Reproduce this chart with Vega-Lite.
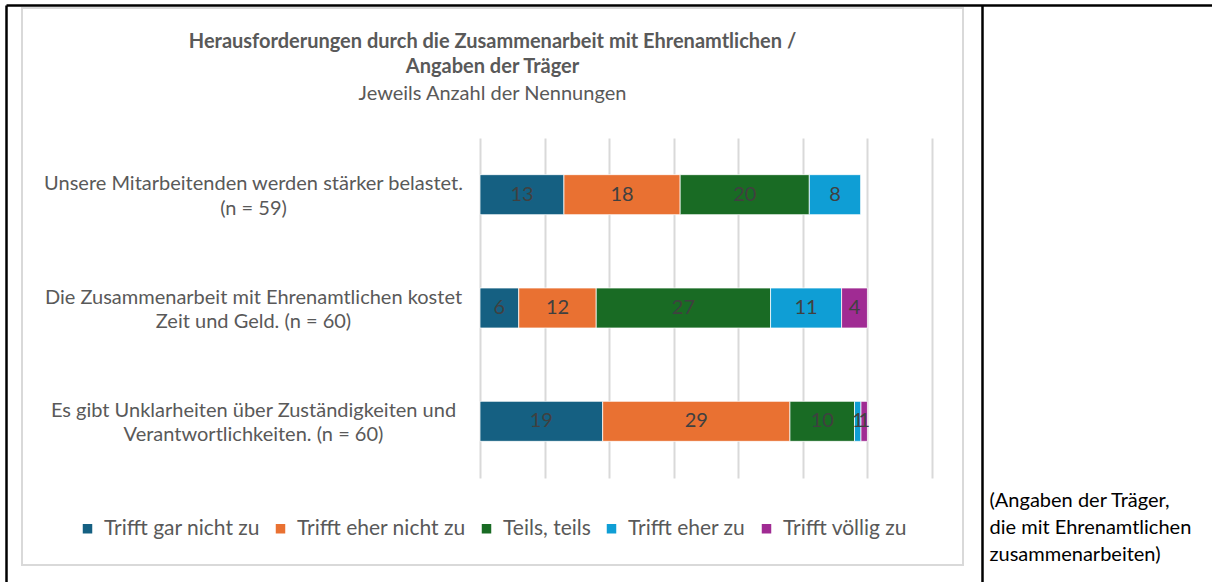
{
  "$schema": "https://vega.github.io/schema/vega-lite/v6.json",
  "width": 941,
  "height": 557,
  "autosize": {"type": "none"},
  "padding": {"left": 22, "top": 8, "right": 249, "bottom": 17},
  "background": "white",
  "config": {"view": {"stroke": "#d9d9d9", "strokeWidth": 2}, "font": "Lato"},
  "title": {
    "text": ["Herausforderungen durch die Zusammenarbeit mit Ehrenamtlichen /", "Angaben der Träger"],
    "subtitle": "Jeweils Anzahl der Nennungen",
    "anchor": "middle",
    "frame": "group",
    "offset": -99,
    "font": "Lato",
    "fontSize": 20,
    "fontWeight": "bold",
    "color": "#595959",
    "lineHeight": 25,
    "subtitleFont": "Lato",
    "subtitleFontSize": 20,
    "subtitleColor": "#595959",
    "subtitlePadding": 7
  },
  "datasets": {
    "answers": [
      {"item": "Unsere Mitarbeitenden werden stärker belastet.\n(n = 59)", "answer": "Trifft gar nicht zu", "value": 13, "order": 1},
      {"item": "Unsere Mitarbeitenden werden stärker belastet.\n(n = 59)", "answer": "Trifft eher nicht zu", "value": 18, "order": 2},
      {"item": "Unsere Mitarbeitenden werden stärker belastet.\n(n = 59)", "answer": "Teils, teils", "value": 20, "order": 3},
      {"item": "Unsere Mitarbeitenden werden stärker belastet.\n(n = 59)", "answer": "Trifft eher zu", "value": 8, "order": 4},
      {"item": "Unsere Mitarbeitenden werden stärker belastet.\n(n = 59)", "answer": "Trifft völlig zu", "value": 0, "order": 5},
      {"item": "Die Zusammenarbeit mit Ehrenamtlichen kostet\nZeit und Geld. (n = 60)", "answer": "Trifft gar nicht zu", "value": 6, "order": 1},
      {"item": "Die Zusammenarbeit mit Ehrenamtlichen kostet\nZeit und Geld. (n = 60)", "answer": "Trifft eher nicht zu", "value": 12, "order": 2},
      {"item": "Die Zusammenarbeit mit Ehrenamtlichen kostet\nZeit und Geld. (n = 60)", "answer": "Teils, teils", "value": 27, "order": 3},
      {"item": "Die Zusammenarbeit mit Ehrenamtlichen kostet\nZeit und Geld. (n = 60)", "answer": "Trifft eher zu", "value": 11, "order": 4},
      {"item": "Die Zusammenarbeit mit Ehrenamtlichen kostet\nZeit und Geld. (n = 60)", "answer": "Trifft völlig zu", "value": 4, "order": 5},
      {"item": "Es gibt Unklarheiten über Zuständigkeiten und\nVerantwortlichkeiten. (n = 60)", "answer": "Trifft gar nicht zu", "value": 19, "order": 1},
      {"item": "Es gibt Unklarheiten über Zuständigkeiten und\nVerantwortlichkeiten. (n = 60)", "answer": "Trifft eher nicht zu", "value": 29, "order": 2},
      {"item": "Es gibt Unklarheiten über Zuständigkeiten und\nVerantwortlichkeiten. (n = 60)", "answer": "Teils, teils", "value": 10, "order": 3},
      {"item": "Es gibt Unklarheiten über Zuständigkeiten und\nVerantwortlichkeiten. (n = 60)", "answer": "Trifft eher zu", "value": 1, "order": 4},
      {"item": "Es gibt Unklarheiten über Zuständigkeiten und\nVerantwortlichkeiten. (n = 60)", "answer": "Trifft völlig zu", "value": 1, "order": 5}
    ]
  },
  "layer": [
    {
      "data": {"name": "answers"},
      "layer": [
        {
          "mark": {"type": "bar", "stroke": "white", "strokeWidth": 0.75},
          "encoding": {
            "y": {
              "field": "item",
              "type": "nominal",
              "sort": [
                "Unsere Mitarbeitenden werden stärker belastet.\n(n = 59)",
                "Die Zusammenarbeit mit Ehrenamtlichen kostet\nZeit und Geld. (n = 60)",
                "Es gibt Unklarheiten über Zuständigkeiten und\nVerantwortlichkeiten. (n = 60)"
              ],
              "scale": {"range": [130, 470], "paddingInner": 0.647, "paddingOuter": 0.3235},
              "axis": {
                "orient": "left",
                "offset": -231,
                "labelPadding": 0,
                "ticks": false,
                "domain": false,
                "grid": false,
                "title": null,
                "labelAlign": "center",
                "labelBaseline": "middle",
                "labelFont": "Lato",
                "labelFontSize": 20,
                "labelColor": "#595959",
                "labelLineHeight": 24.5,
                "labelOffset": -10.5,
                "labelLimit": 0,
                "labelExpr": "split(datum.value, '\\n')"
              }
            },
            "x": {
              "field": "value",
              "type": "quantitative",
              "stack": "zero",
              "scale": {"domain": [0, 70], "range": [458, 910], "nice": false},
              "axis": {
                "orient": "top",
                "values": [0, 10, 20, 30, 40, 50, 60, 70],
                "grid": true,
                "gridColor": "#d9d9d9",
                "gridWidth": 2,
                "labels": false,
                "ticks": false,
                "domain": false,
                "title": null
              }
            },
            "color": {
              "field": "answer",
              "type": "nominal",
              "scale": {
                "domain": ["Trifft gar nicht zu", "Trifft eher nicht zu", "Teils, teils", "Trifft eher zu", "Trifft völlig zu"],
                "range": ["#156082", "#E97132", "#196B24", "#0F9ED5", "#A02B93"]
              },
              "legend": {
                "orient": "none",
                "legendX": 55,
                "legendY": 510,
                "direction": "horizontal",
                "title": null,
                "symbolType": "square",
                "symbolSize": 90,
                "symbolStrokeWidth": 0,
                "labelFont": "Lato",
                "labelFontSize": 21,
                "labelLimit": 0,
                "labelColor": "#595959",
                "columnPadding": 10,
                "labelOffset": 6
              }
            },
            "order": {"field": "order", "type": "quantitative"}
          }
        },
        {
          "transform": [
            {"filter": "datum.value > 0"},
            {"stack": "value", "groupby": ["item"], "sort": [{"field": "order", "order": "ascending"}], "as": ["v0", "v1"]},
            {"fold": ["v0", "v1"], "as": ["edge", "pos"]},
            {"aggregate": [{"op": "mean", "field": "pos", "as": "mid"}], "groupby": ["item", "answer", "value"]}
          ],
          "mark": {"type": "text", "font": "Lato", "fontSize": 20, "color": "#404040", "align": "center", "baseline": "middle"},
          "encoding": {
            "y": {
              "field": "item",
              "type": "nominal",
              "sort": [
                "Unsere Mitarbeitenden werden stärker belastet.\n(n = 59)",
                "Die Zusammenarbeit mit Ehrenamtlichen kostet\nZeit und Geld. (n = 60)",
                "Es gibt Unklarheiten über Zuständigkeiten und\nVerantwortlichkeiten. (n = 60)"
              ]
            },
            "x": {"field": "mid", "type": "quantitative"},
            "text": {"field": "value", "type": "quantitative"}
          }
        }
      ]
    },
    {
      "data": {"values": [{}]},
      "mark": {"type": "point", "opacity": 0},
      "encoding": {
        "x": {
          "datum": 0,
          "type": "quantitative",
          "scale": {"domain": [0, 1], "range": [-16, 1190]},
          "axis": {"orient": "top", "offset": 3, "domainColor": "#000000", "domainWidth": 2.5, "labels": false, "ticks": false, "grid": false, "title": null}
        },
        "y": {
          "datum": 0,
          "type": "quantitative",
          "scale": {"domain": [0, 1], "range": [574, -3]},
          "axis": {"orient": "left", "offset": 16, "domainColor": "#000000", "domainWidth": 2.5, "labels": false, "ticks": false, "grid": false, "title": null}
        }
      }
    },
    {
      "data": {"values": [{}]},
      "mark": {"type": "point", "opacity": 0},
      "encoding": {
        "x": {
          "datum": 0,
          "type": "quantitative",
          "scale": {"domain": [0, 1], "range": [0, 941]},
          "axis": null
        },
        "y": {
          "datum": 0,
          "type": "quantitative",
          "scale": {"domain": [0, 1], "range": [574, -3]},
          "axis": {
            "orient": "right",
            "offset": 19,
            "domainColor": "#000000",
            "domainWidth": 2.5,
            "labels": false,
            "ticks": false,
            "grid": false,
            "title": ["(Angaben der Träger,", "die mit Ehrenamtlichen", "zusammenarbeiten)"],
            "titleAngle": 0,
            "titleAlign": "left",
            "titleBaseline": "top",
            "titleX": 7,
            "titleY": 482,
            "titleFont": "Lato",
            "titleFontSize": 20,
            "titleFontWeight": "normal",
            "titleColor": "#000000",
            "titleLineHeight": 27
          }
        }
      }
    }
  ],
  "resolve": {
    "scale": {"x": "independent", "y": "independent"},
    "axis": {"x": "independent", "y": "independent"}
  }
}
